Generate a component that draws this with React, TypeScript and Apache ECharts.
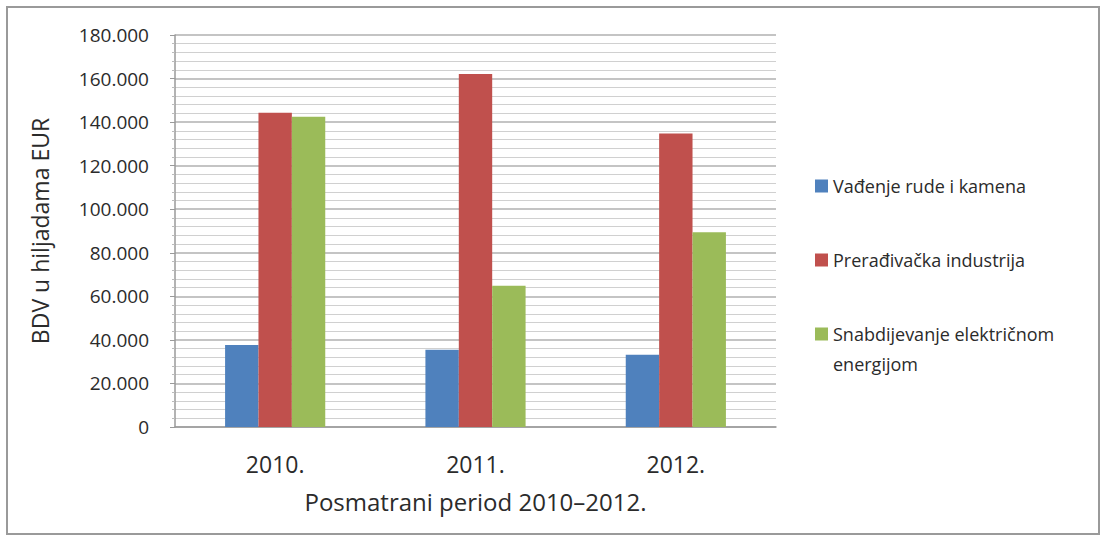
import React, { useEffect, useRef } from "react";
import * as echarts from "echarts";

const categories = ["2010.", "2011.", "2012."];
const seriesNames = [
  "Vađenje rude i kamena",
  "Prerađivačka industrija",
  "Snabdijevanje električnom energijom",
];
const vadjenje = [37600, 35500, 33200];
const preradjivacka = [144300, 162100, 134800];
const snabdijevanje = [142500, 64900, 89400];
const colors = ["#4F81BD", "#C0504D", "#9BBB59"];

const FONT = "'Open Sans', sans-serif";
const TXT = "#2b2b2b";

function fmt(v: number): string {
  return String(v).replace(/\B(?=(\d{3})+(?!\d))/g, ".");
}

export default function App() {
  const ref = useRef<HTMLDivElement>(null);
  useEffect(() => {
    if (!ref.current) return;
    const chart = echarts.init(ref.current, null, { renderer: "svg" });
    const values = [vadjenje, preradjivacka, snabdijevanje];
    const legendBase = {
      orient: "vertical",
      left: 815,
      padding: 0,
      itemWidth: 13,
      itemHeight: 13,
      icon: "rect",
      textStyle: { fontFamily: FONT, fontSize: 18, color: TXT, lineHeight: 30 },
    };
    chart.setOption({
      animation: false,
      backgroundColor: "#fff",
      textStyle: { fontFamily: FONT },
      graphic: [
        {
          type: "rect",
          shape: { x: 7, y: 7, width: 1092, height: 527 },
          style: { fill: "none", stroke: "#9a9a9a", lineWidth: 2 },
          silent: true,
        },
      ],
      grid: { left: 175, right: 328, top: 35, bottom: 112 },
      legend: [
        { ...legendBase, top: 171, data: [seriesNames[0]] },
        { ...legendBase, top: 245, data: [seriesNames[1]] },
        {
          ...legendBase,
          top: 289,
          data: [seriesNames[2]],
          formatter: () => " \nSnabdijevanje električnom\nenergijom",
        },
      ],
      xAxis: {
        type: "category",
        data: categories,
        name: "Posmatrani period 2010–2012.",
        nameLocation: "middle",
        nameGap: 62,
        nameTextStyle: { fontFamily: FONT, fontSize: 24, color: TXT },
        axisLine: { lineStyle: { color: "#9a9a9a", width: 1.5 } },
        axisTick: { show: false },
        axisLabel: { fontFamily: FONT, fontSize: 23, color: TXT, margin: 25 },
      },
      yAxis: {
        type: "value",
        min: 0,
        max: 180000,
        interval: 20000,
        name: "BDV u hiljadama EUR",
        nameLocation: "middle",
        nameGap: 124,
        nameTextStyle: { fontFamily: FONT, fontSize: 23, color: TXT },
        axisLine: { show: true, lineStyle: { color: "#9a9a9a", width: 1.5 } },
        axisTick: { show: true, length: 5, lineStyle: { color: "#9a9a9a" } },
        minorTick: { show: true, splitNumber: 5, length: 3, lineStyle: { color: "#bbb" } },
        axisLabel: {
          fontFamily: FONT,
          fontSize: 19,
          color: TXT,
          margin: 26,
          formatter: (v: number) => fmt(v),
        },
        splitLine: { show: true, lineStyle: { color: "#b0b0b0", width: 1.5 } },
        minorSplitLine: { show: true, lineStyle: { color: "#d0d0d0", width: 1.2 } },
      },
      series: seriesNames.map((name, i) => ({
        name,
        type: "bar",
        data: values[i],
        itemStyle: { color: colors[i] },
        barGap: "0%",
        barCategoryGap: "50%",
      })),
    });
    return () => chart.dispose();
  }, []);
  return (
    <div
      ref={ref}
      style={{ position: "fixed", left: 0, top: 0, width: 1104, height: 539 }}
    />
  );
}
